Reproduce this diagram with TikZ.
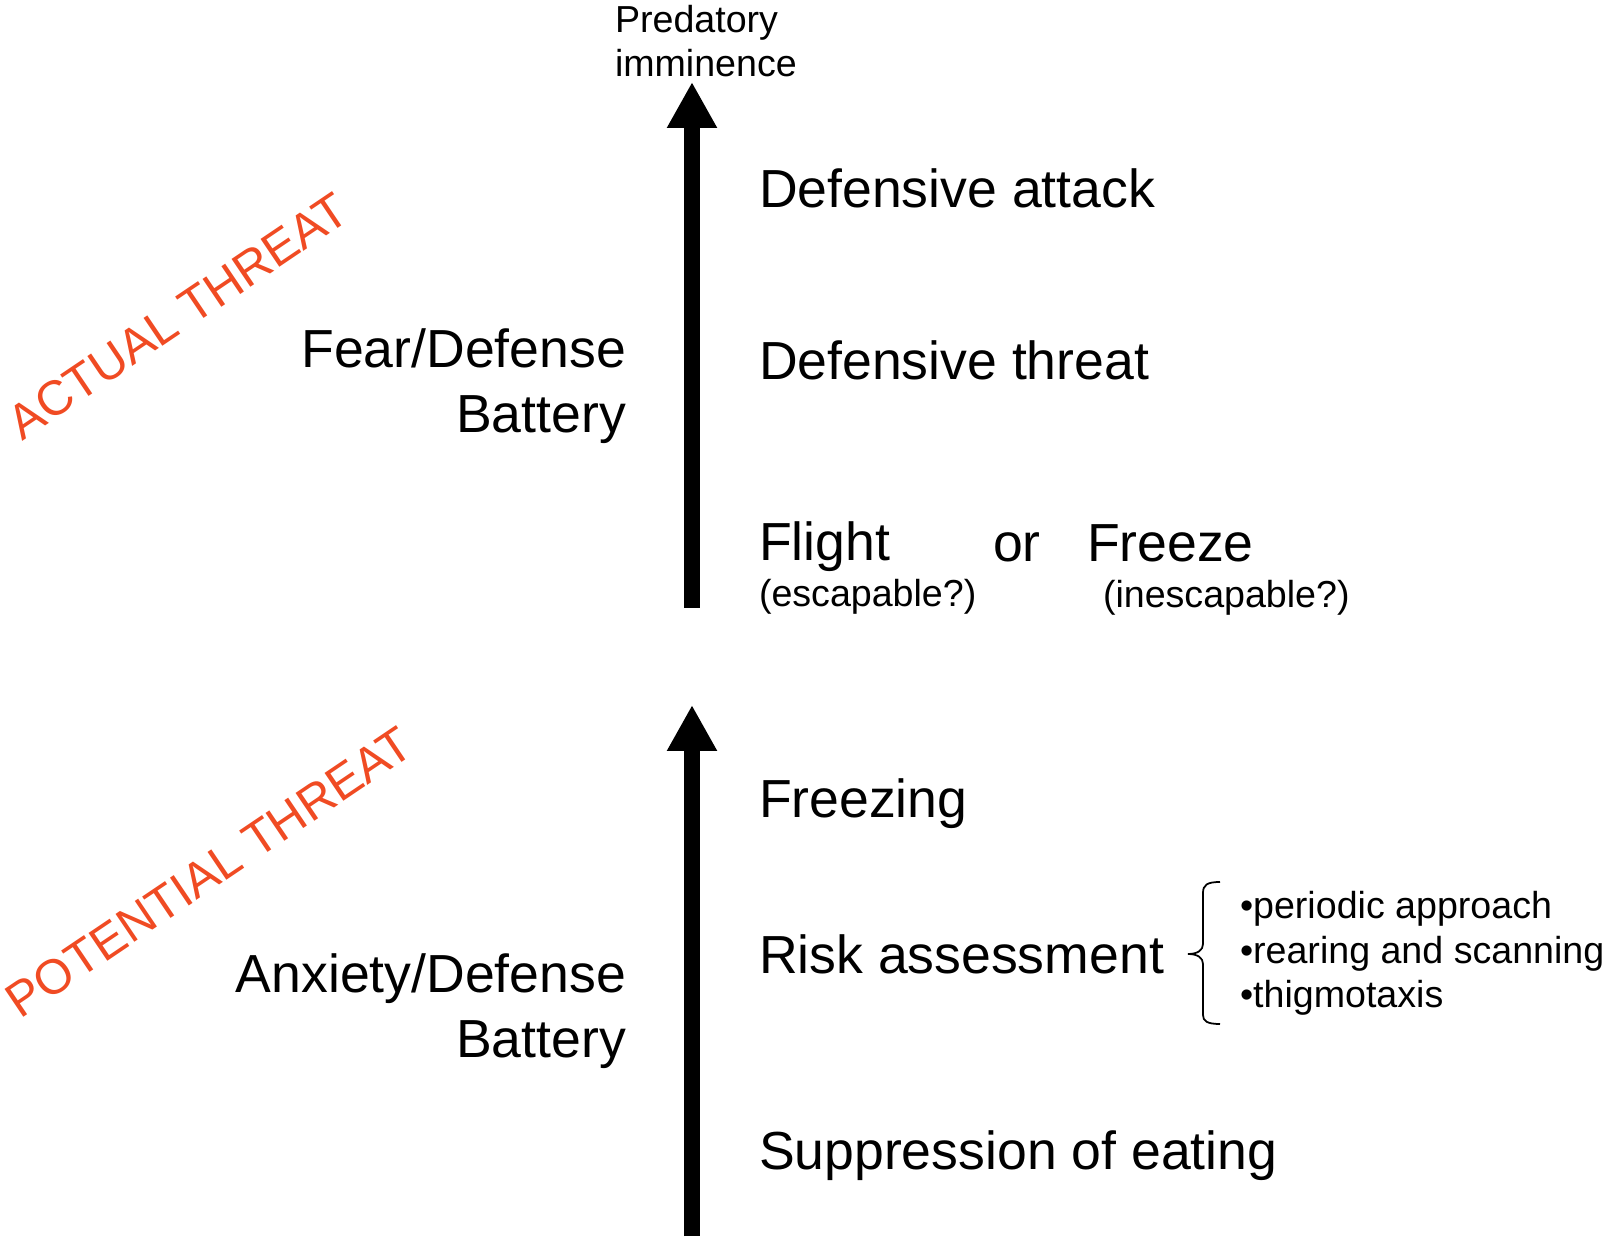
\documentclass[tikz,border=0pt]{standalone}
\usepackage{fontspec}
\setmainfont{Liberation Sans}
\usepackage{tikz}
\usetikzlibrary{arrows,arrows.meta}
\usetikzlibrary{positioning}
\definecolor{threatred}{RGB}{240,75,35}

\begin{document}
\begin{tikzpicture}[x=0.02cm,y=-0.02cm,
	every node/.style={inner sep=0pt,outer sep=0pt},
	big/.style={font=\fontsize{30.5}{37}\selectfont},
	small/.style={font=\fontsize{21.4}{25.5}\selectfont},
	threat/.style={text=threatred,font=\fontsize{27.8}{32}\selectfont,rotate=34},
	imminence/.style={line width=0.32cm,-{Triangle[width=0.94cm,length=0.92cm]}}]

	\useasboundingbox (0,0) rectangle (1614,1239);

	% the two axes
	\coordinate (baseA) at (692,608);
	\coordinate (tipA) at (692,82);
	\coordinate (baseP) at (692,1236);
	\coordinate (tipP) at (692,705);

	\node[small, align=left, anchor=base west] (pred) at (615,77) {Predatory\\imminence};

	\node[threat] (actual) at (178,316) {ACTUAL THREAT};
	\node[threat] (potential) at (209,872) {POTENTIAL THREAT};

	\node[big, align=right, anchor=base east] (fear) at (626,433) {Fear/Defense\\Battery};
	\node[big, align=right, anchor=base east] (anxiety) at (626,1058) {Anxiety/Defense\\Battery};

	\node[big, anchor=base west] (attack) at (759,208) {Defensive attack};
	\node[big, below=3.44cm of attack.base west, anchor=base west] (threat) {Defensive threat};
	\node[big, below=3.62cm of threat.base west, anchor=base west] (flight) {Flight};
	\node[big, anchor=base west] (orword) at (993,562) {or};
	\node[big, anchor=base west] (freeze) at (1087,562) {Freeze};
	\node[small, below=0.92cm of flight.base west, anchor=base west] (escape) {(escapable?)};
	\node[small, anchor=base west] (inescape) at (1103,608) {(inescapable?)};

	\node[big, anchor=base west] (freezing) at (759,818) {Freezing};
	\node[big, below=3.12cm of freezing.base west, anchor=base west] (risk) {Risk assessment};
	\node[big, below=3.92cm of risk.base west, anchor=base west] (eating) {Suppression of eating};

	\node[small, align=left, anchor=base west] (bullets) at (1240,1008) {%
		\textbullet periodic approach\\
		\textbullet rearing and scanning\\
		\textbullet thigmotaxis};

	% brace
	\coordinate (braceTop) at (1220,882);
	\coordinate (braceTip) at (1188,954);
	\coordinate (braceBot) at (1220,1024);

	\draw[imminence] (baseA) -- (tipA);
	\draw[imminence] (baseP) -- (tipP);
	\draw[line width=1pt] (braceTop) .. controls (1207,882) and (1203,885) .. (1203,893)
		-- (1203,944) .. controls (1203,950) and (1198,954) .. (braceTip)
		.. controls (1198,954) and (1203,958) .. (1203,964)
		-- (1203,1015) .. controls (1203,1021) and (1207,1024) .. (braceBot);
\end{tikzpicture}
\end{document}
